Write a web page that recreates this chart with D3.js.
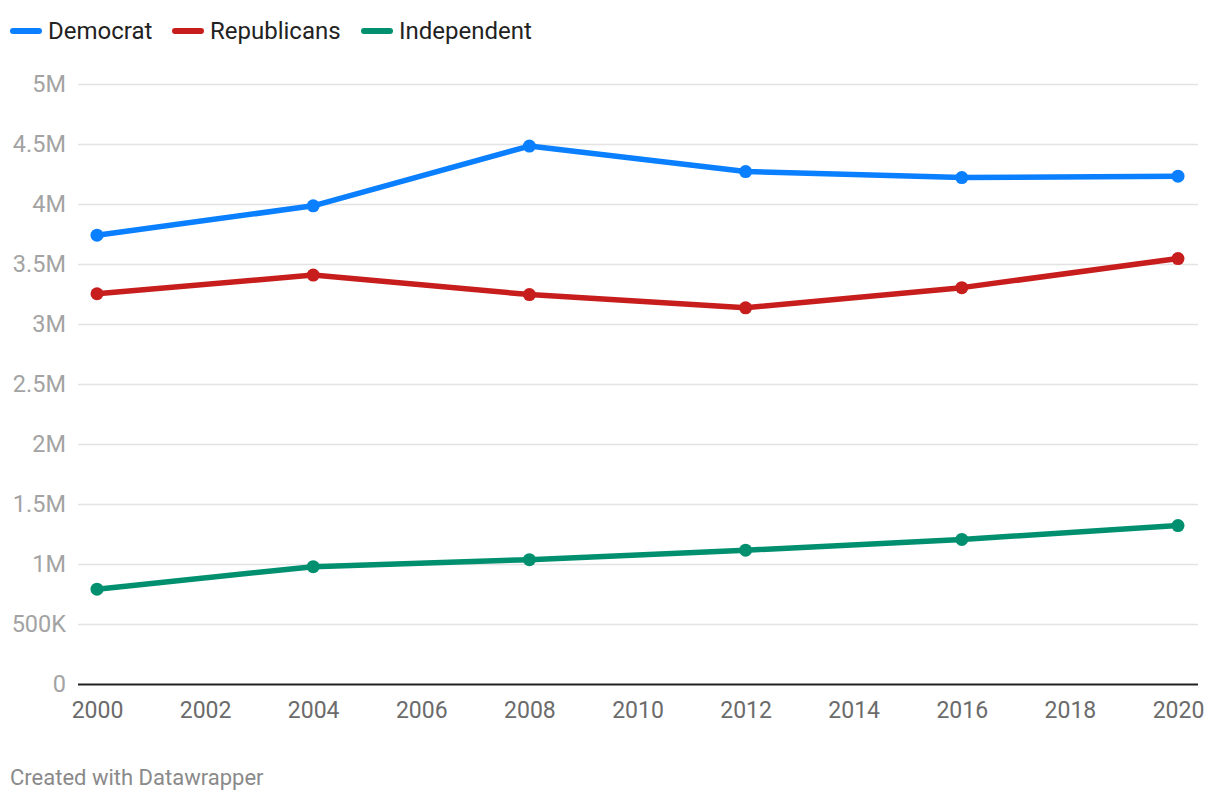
<!DOCTYPE html>
<html>
<head>
<meta charset="utf-8">
<script src="https://cdn.jsdelivr.net/npm/d3@7"></script>
<style>
  body { margin: 0; background: #fff; font-family: Roboto, "Noto Sans", sans-serif; }
</style>
</head>
<body>
<svg id="chart" width="1220" height="800"></svg>
<script>
const years = [2000, 2004, 2008, 2012, 2016, 2020];
const democrat = [3.74e6, 3.985e6, 4.483e6, 4.27e6, 4.22e6, 4.232e6];
const republicans = [3.252e6, 3.408e6, 3.245e6, 3.135e6, 3.303e6, 3.545e6];
const independent = [0.79e6, 0.978e6, 1.036e6, 1.115e6, 1.205e6, 1.32e6];
const seriesNames = ["Democrat", "Republicans", "Independent"];
const seriesColors = ["#0a7fff", "#c71e1d", "#00906f"];
const yTicks = [0, 500000, 1000000, 1500000, 2000000, 2500000, 3000000, 3500000, 4000000, 4500000, 5000000];
const xTicks = [2000, 2002, 2004, 2006, 2008, 2010, 2012, 2014, 2016, 2018, 2020];

const series = [democrat, republicans, independent].map((vals, i) => ({
  name: seriesNames[i],
  color: seriesColors[i],
  values: vals.map((v, j) => ({ year: years[j], value: v }))
}));

const svg = d3.select("#chart");
const margin = { top: 84, left: 78, right: 22, bottom: 116 };
const width = 1220, height = 800;

const x = d3.scaleLinear().domain([2000, 2020]).range([97, 1178]);
const y = d3.scaleLinear().domain([0, 5e6]).range([height - margin.bottom, margin.top]);

const fmt = d => d === 0 ? "0" : d >= 1e6 ? (d / 1e6) + "M" : (d / 1e3) + "K";

// gridlines + y labels
const gy = svg.append("g")
  .attr("transform", `translate(${margin.left},0)`)
  .call(d3.axisLeft(y).tickValues(yTicks).tickFormat(fmt)
    .tickSize(-(width - margin.left - margin.right)).tickPadding(12));
gy.select(".domain").remove();
gy.selectAll(".tick line").attr("stroke", "#e3e3e3").attr("stroke-width", 1.5)
  .filter(d => d === 0).attr("stroke", "#222").attr("stroke-width", 2);
gy.selectAll(".tick text").attr("fill", "#a3a3a3").style("font-size", "23.5px")
  .style("font-family", "Roboto");

// x labels
const gx = svg.append("g")
  .attr("transform", `translate(0,${y(0)})`)
  .call(d3.axisBottom(x).tickValues(xTicks).tickFormat(d3.format("d")).tickSize(0).tickPadding(18));
gx.select(".domain").remove();
gx.selectAll(".tick text").attr("fill", "#6b6b6b").style("font-size", "23px")
  .style("font-family", "Roboto");

const line = d3.line().x(d => x(d.year)).y(d => y(d.value));

series.forEach(s => {
  svg.append("path")
    .datum(s.values)
    .attr("fill", "none")
    .attr("stroke", s.color)
    .attr("stroke-width", 5.5)
    .attr("stroke-linejoin", "round")
    .attr("d", line);

  svg.selectAll(null)
    .data(s.values)
    .enter()
    .append("circle")
    .attr("cx", d => x(d.year))
    .attr("cy", d => y(d.value))
    .attr("r", 6.5)
    .attr("fill", s.color);
});

// legend
const legendX = [10, 172, 361];
const legend = svg.append("g");
series.forEach((s, i) => {
  const g = legend.append("g").attr("transform", `translate(${legendX[i]},0)`);
  g.append("line")
    .attr("x1", 3).attr("x2", 29).attr("y1", 31).attr("y2", 31)
    .attr("stroke", s.color).attr("stroke-width", 6).attr("stroke-linecap", "round");
  g.append("text")
    .attr("x", 38).attr("y", 39)
    .attr("fill", "#222")
    .style("font-size", "24px")
    .text(s.name);
});

svg.append("text")
  .attr("x", 10).attr("y", 785)
  .attr("fill", "#8a8a8a")
  .style("font-size", "22px")
  .text("Created with Datawrapper");
</script>
</body>
</html>
